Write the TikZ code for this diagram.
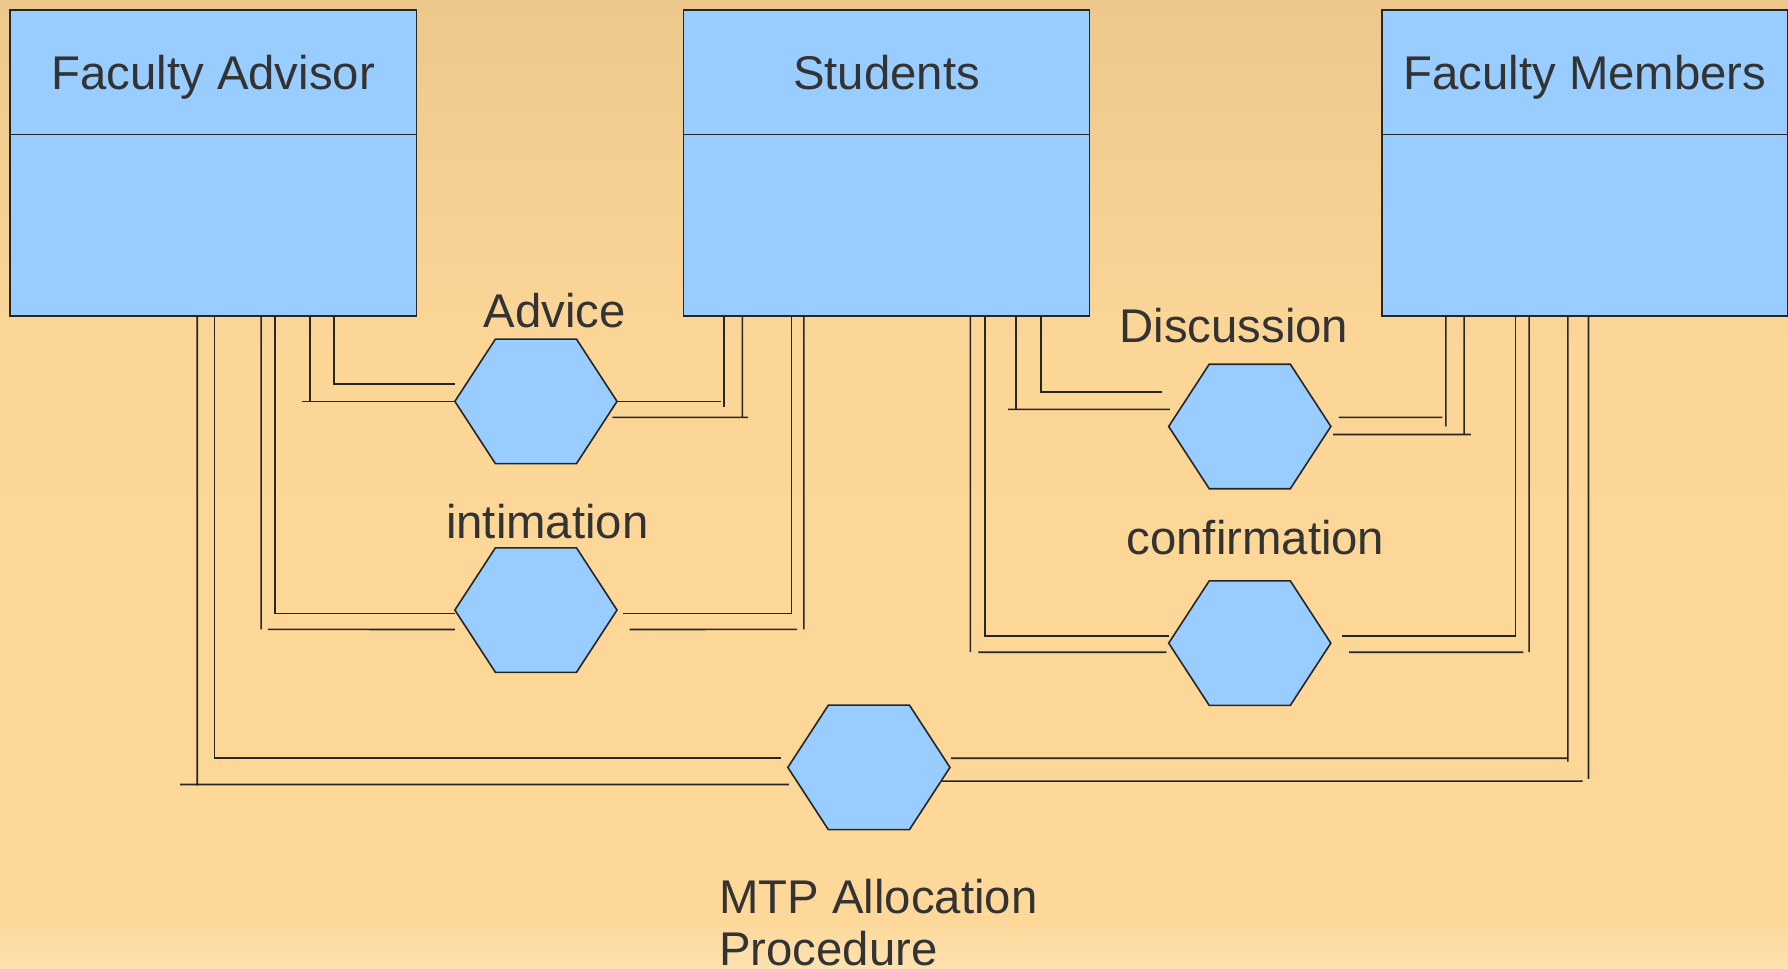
\documentclass[tikz,border=0pt]{standalone}
\usepackage{fontspec}
\setmainfont{Liberation Sans}
\usetikzlibrary{shapes.geometric, positioning}

\definecolor{boxblue}{RGB}{153,204,255}
\definecolor{inkgray}{RGB}{51,51,51}
\definecolor{bgtop}{RGB}{236,200,141}
\definecolor{bgmid}{RGB}{251,214,151}
\definecolor{bglow}{RGB}{253,216,153}
\definecolor{bgbot}{RGB}{252,226,176}
\pgfdeclareverticalshading{sandfade}{100bp}{color(0bp)=(bgbot); color(25bp)=(bgbot); color(27.5bp)=(bglow); color(57bp)=(bgmid); color(75bp)=(bgtop); color(100bp)=(bgtop)}

\begin{document}
\begin{tikzpicture}[
    x=0.01cm, y=-0.01cm,
    every node/.style={font=\fontsize{11.8}{13.1}\selectfont, text=inkgray},
    headbox/.style={rectangle, draw=black!85, fill=boxblue, line width=0.4pt, minimum width=3.56cm, minimum height=1.09cm, inner sep=0pt, outer sep=0pt, text height=8.5pt, text depth=0pt},
    bodybox/.style={headbox, minimum height=1.59cm},
    hexa/.style={regular polygon, regular polygon sides=6, minimum size=1.26cm, xscale=1.128, inner sep=0pt, outer sep=0pt, draw=black!85, fill=boxblue, line width=0.4pt},
    link/.style={draw=black!85, line width=0.4pt}
]
    % Background
    \shade[shading=sandfade] (0,0) rectangle (1568,849);
    \useasboundingbox (0,0) rectangle (1568,849);

    % Actors
    \node[headbox] (fa) at (187,63.5) {Faculty Advisor};
    \node[bodybox, below=0pt of fa] (fab) {};
    \node[headbox] (st) at (777.5,63.5) {Students};
    \node[bodybox, below=0pt of st] (stb) {};
    \node[headbox] (fm) at (1390,63.5) {Faculty Members};
    \node[bodybox, below=0pt of fm] (fmb) {};

    % Messages
    \node[hexa] (advice) at (470,352) {};
    \node[hexa] (intim) at (470,535) {};
    \node[hexa] (disc) at (1096,374) {};
    \node[hexa] (conf) at (1096,564) {};
    \node[hexa] (mtp) at (762,673) {};

    \node[anchor=base] (adviceLbl) at (486.5,287) {Advice};
    \node[anchor=base] (intimLbl) at (480,472) {intimation};
    \node[anchor=base] (discLbl) at (1082,300) {Discussion};
    \node[anchor=base] (confLbl) at (1101,486) {confirmation};
    \node[anchor=north west, align=left, inner sep=0pt] (mtpLbl) at (630,770) {MTP Allocation\\Procedure};

    % Advice: advisor <-> students
    \draw[link] (fab.south -| 293,0) |- ([yshift=.15cm]advice.west);
    \draw[link] (fab.south -| 272,0) -- (272,352) (265,352) -- (advice.west);
    \draw[link] (advice.east) -- (632,352) (stb.south -| 635,0) -- (635,357);
    \draw[link] ([shift={(-.04cm,-.14cm)}]advice.east) -- (656,366) (stb.south -| 651,0) -- (651,366);

    % intimation
    \draw[link] (fab.south -| 241,0) |- ([yshift=-.03cm]intim.west);
    \draw[link] (fab.south -| 229,0) -- (229,552) (235,552) -- ([yshift=-.17cm]intim.west);
    \draw[link] ([shift={(.05cm,-.03cm)}]intim.east) -| (stb.south -| 694,0);
    \draw[link] ([shift={(.11cm,-.17cm)}]intim.east) -- (699,552) (stb.south -| 705,0) -- (705,552);

    % Discussion: students <-> faculty
    \draw[link] (stb.south -| 913,0) |- ([shift={(-.06cm,.30cm)}]disc.west);
    \draw[link] (stb.south -| 891,0) -- (891,359) (884,359) -- ([shift={(.01cm,.15cm)}]disc.west);
    \draw[link] ([shift={(.07cm,.08cm)}]disc.east) -- (1265,366) (fmb.south -| 1268,0) -- (1268,374);
    \draw[link] ([shift={(.02cm,-.07cm)}]disc.east) -- (1290,381) (fmb.south -| 1284,0) -- (1284,381);

    % confirmation
    \draw[link] (stb.south -| 864,0) |- ([yshift=.06cm]conf.west);
    \draw[link] (stb.south -| 851,0) -- (851,572) (858,572) -- ([shift={(-.02cm,-.08cm)}]conf.west);
    \draw[link] ([shift={(.10cm,.06cm)}]conf.east) -| (fmb.south -| 1329,0);
    \draw[link] ([shift={(.16cm,-.08cm)}]conf.east) -- (1336,572) (fmb.south -| 1341,0) -- (1341,572);

    % MTP allocation: advisor <-> faculty
    \draw[link] (fab.south -| 188,0) |- ([shift={(-.06cm,.08cm)}]mtp.west);
    \draw[link] (fab.south -| 173,0) -- (173,689) (158,688) -- ([shift={(.01cm,-.15cm)}]mtp.west);
    \draw[link] ([shift={(.01cm,.08cm)}]mtp.east) -- (1375,665) (fmb.south -| 1375,0) -- (1375,668);
    \draw[link] ([shift={(-.07cm,-.12cm)}]mtp.east) -- (1388,685) (fmb.south -| 1393,0) -- (1393,683);
\end{tikzpicture}
\end{document}
